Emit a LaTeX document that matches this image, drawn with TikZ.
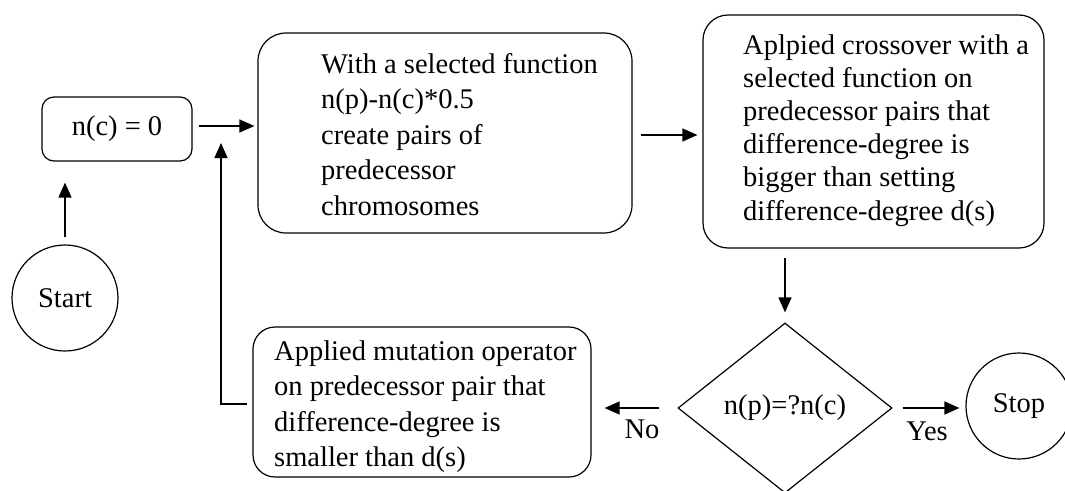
\documentclass[tikz,border=0pt]{standalone}
\usepackage{fontspec}
\setmainfont{Liberation Serif}
\usetikzlibrary{shapes.geometric,arrows.meta,calc}
\tikzset{
  shape line/.style={draw=black, line width=1.2pt},
  rbox/.style={shape line, rectangle, inner sep=0pt},
  circ/.style={shape line, circle, inner sep=0pt, minimum size=106pt},
  txt/.style={inner sep=0pt, font=\fontsize{28.5}{35.5}\selectfont},
  arr/.style={line width=1.3pt, -{Triangle[length=15pt,width=13pt]}},
  plain/.style={line width=1.3pt},
}
\begin{document}
\begin{tikzpicture}[x=1pt,y=-1pt]
\useasboundingbox (0,0) rectangle (1065,490);
\clip (0,0) rectangle (1065,490);
\fill[white] (0,0) rectangle (1065,490);
% nodes
\node[rbox, rounded corners=12pt, minimum width=150pt, minimum height=64pt, txt] (n0) at (117,129) {n(c) = 0};
\node[circ, txt] (start) at (65,298) {Start};
\node[rbox, rounded corners=28pt, minimum width=374pt, minimum height=200pt] (b2) at (445,133) {};
\node[txt, anchor=base west] (t2) at (321,73) {\parbox[t]{300pt}{\raggedright With a selected function\\ n(p)-n(c)*0.5\\ create pairs of\\ predecessor\\ chromosomes}};
\node[rbox, rounded corners=25pt, minimum width=341pt, minimum height=233pt] (b3) at (873.5,131.5) {};
\node[txt, anchor=base west] (t3) at (743,54) {\fontsize{28.5}{33.2}\selectfont\parbox[t]{300pt}{\raggedright Aplpied crossover with a\\ selected function on\\ predecessor pairs that\\ difference-degree is\\ bigger than setting\\ difference-degree d(s)}};
\node[shape line, diamond, inner sep=0pt, minimum width=214pt, minimum height=170pt, txt] (d) at (785,408) {n(p)=?n(c)};
\node[circ, txt] (stop) at (1019,406) {Stop};
\node[rbox, rounded corners=22pt, minimum width=338pt, minimum height=150pt] (b4) at (422,402) {};
\node[txt, anchor=base west] (t4) at (274,360) {\parbox[t]{320pt}{\raggedright Applied mutation operator\\ on predecessor pair that\\ difference-degree is\\ smaller than d(s)}};
\node[txt, anchor=base] (no) at (642,438) {No};
\node[txt, anchor=base] (yes) at (927,440) {Yes};
\coordinate (fb) at (221,143);
% connectors
\draw[arr, shorten <=7pt, shorten >=21pt] (start.north) -- (start.north |- n0.south);
\draw[arr, shorten <=6pt, shorten >=3pt] ([yshift=3pt]n0.east) -- ([yshift=3pt]n0.east -| b2.west);
\draw[arr, shorten <=8pt, shorten >=5pt] ([yshift=-2pt]b2.east) -- ([yshift=-2pt]b2.east -| b3.west);
\draw[arr, shorten <=9pt, shorten >=10pt] (d.north |- b3.south) -- (d.north);
\draw[arr, shorten <=18pt, shorten >=13pt] (d.west) -- (d.west -| b4.east);
\draw[arr, shorten <=10pt, shorten >=6pt] (d.east) -- (d.east -| stop.west);
\draw[arr] ([xshift=-5pt,yshift=-2pt]b4.west) -| (fb);
\end{tikzpicture}
\end{document}
